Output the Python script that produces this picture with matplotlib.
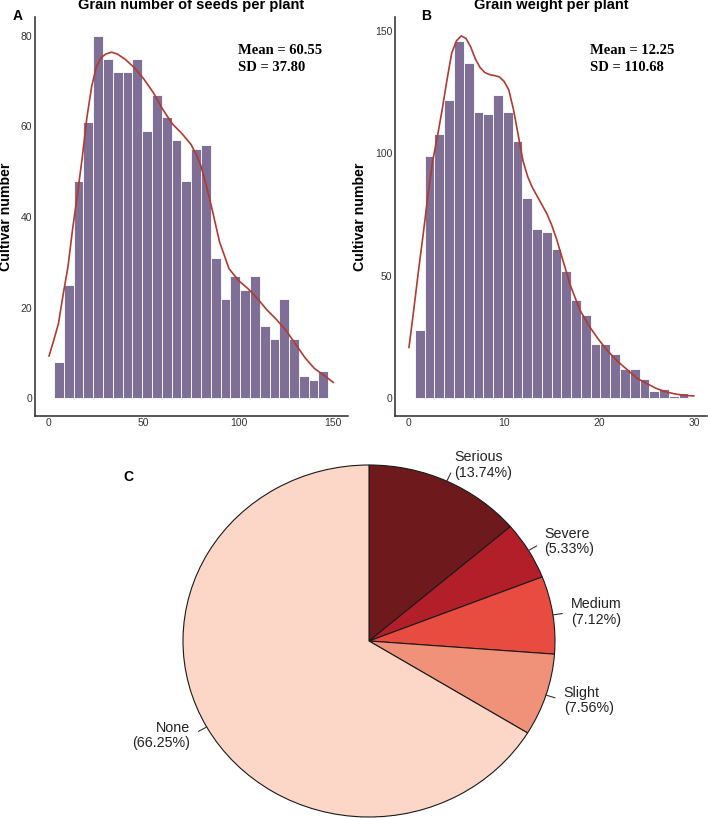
import numpy as np
import matplotlib
matplotlib.use("Agg")
import matplotlib.pyplot as plt

# ---------------- data ----------------
seed_counts = [8, 25, 48, 61, 80, 75, 72, 72, 75, 59, 67, 62, 57, 48,
               55, 56, 31, 22, 27, 24, 27, 16, 13, 22, 13, 5, 4, 6]
seed_bin_start = 2.64
seed_bin_width = 5.168
seed_curve_x = [0, 2.5, 5, 7.5, 10, 12.5, 15, 17.5, 20, 22.5, 25, 27.5, 30,
                33, 36, 40, 45, 50, 55, 60, 65, 70, 75, 78, 80, 83, 86, 90,
                95, 100, 105, 110, 115, 120, 125, 130, 135, 140, 145, 150]
seed_curve_y = [9.3, 12.8, 16.5, 23.0, 29.0, 37.5, 45.0, 53.0, 62.0, 68.8,
                73.2, 75.2, 76.0, 76.4, 76.0, 74.9, 73.0, 70.5, 67.5, 63.8,
                60.6, 58.5, 56.0, 53.5, 51.5, 47.0, 41.8, 34.5, 28.6, 26.0,
                24.2, 22.0, 19.5, 17.4, 15.0, 12.0, 9.0, 6.6, 5.1, 3.5]

weight_counts = [28, 99, 108, 122, 146, 137, 117, 116, 124, 117, 105, 82, 69,
                 68, 61, 52, 40, 34, 22, 22, 18, 12, 12, 8, 3, 4, 1, 2]
weight_bin_start = 0.632
weight_bin_width = 1.0275
weight_curve_x = [0, 0.5, 1, 1.5, 2, 2.5, 3, 3.5, 4, 4.5, 5, 5.5, 6, 6.5, 7,
                  7.5, 8, 8.5, 9, 9.5, 10, 10.5, 11, 11.5, 12, 12.5, 13, 13.5,
                  14, 14.5, 15, 15.5, 16, 17, 18, 19, 20, 21, 22, 23, 24, 25,
                  26, 27, 28, 29, 30]
weight_curve_y = [20.7, 36, 52, 67, 83, 97, 107, 118, 130, 141, 146, 148,
                  147, 143.5, 138.5, 135, 133, 132.2, 131.8, 131.3, 129.5,
                  126, 118, 107.5, 97, 90.5, 86, 82.5, 79, 75.5, 71, 65.5,
                  59, 46, 36, 29.3, 23.8, 19, 15, 11.6, 8.2, 6.1, 4.1, 2.7,
                  1.8, 1.2, 1.0]

pie_labels = ["Serious", "Severe", "Medium", "Slight", "None"]
pie_values = [13.74, 5.33, 7.12, 7.56, 66.25]
pie_colors = ["#6E1A1D", "#B21F28", "#E84C41", "#F0917A", "#FCD7C7"]

# ---------------- figure ----------------
W, H = 708, 818
fig = plt.figure(figsize=(W / 100, H / 100), dpi=100)

def fx(px):
    return px / W

def fy(py):
    return 1 - py / H

BAR = "#7F6E95"
CURVE = "#B23A2E"
SPINE = "#2E2626"
TICK = "#333333"
SANS = ["Liberation Sans", "DejaVu Sans"]
SERIF = ["Liberation Serif", "DejaVu Serif"]


def hist_panel(rect, counts, start, width, cx, cy, xlim, ylim, xticks, yticks):
    ax = fig.add_axes(rect)
    centers = start + width * (np.arange(len(counts)) + 0.5)
    ax.bar(centers, counts, width=width, color=BAR, edgecolor="white",
           linewidth=0.6)
    ax.plot(cx, cy, color=CURVE, lw=1.2, solid_joinstyle="round",
            solid_capstyle="round")
    ax.set_xlim(*xlim)
    ax.set_ylim(*ylim)
    ax.set_xticks(xticks)
    ax.set_yticks(yticks)
    for s in ["top", "right"]:
        ax.spines[s].set_visible(False)
    for s in ["left", "bottom"]:
        ax.spines[s].set_color(SPINE)
        ax.spines[s].set_linewidth(1.1)
    ax.tick_params(length=0, pad=1.6, labelsize=7.5, colors=TICK)
    for lab in ax.get_xticklabels() + ax.get_yticklabels():
        lab.set_family(SANS)
    return ax


top_px, bot_px = 17.3, 416.0
axA = hist_panel([fx(34.7), fy(bot_px), fx(348.3) - fx(34.7), (bot_px - top_px) / H],
                 seed_counts, seed_bin_start, seed_bin_width,
                 seed_curve_x, seed_curve_y,
                 (-7.54, 157.9), (-3.9, 84.1), [0, 50, 100, 150], [0, 20, 40, 60, 80])
axB = hist_panel([fx(394.7), fy(bot_px), fx(707.3) - fx(394.7), (bot_px - top_px) / H],
                 weight_counts, weight_bin_start, weight_bin_width,
                 weight_curve_x, weight_curve_y,
                 (-1.5, 31.4), (-7.2, 155.6), [0, 10, 20, 30], [0, 50, 100, 150])

# titles
fig.text(fx(191.5), fy(9.5), "Grain number of seeds per plant", ha="center",
         va="baseline", fontsize=10.5, fontweight="bold", family=SANS)
fig.text(fx(551), fy(9.5), "Grain weight per plant", ha="center",
         va="baseline", fontsize=10.5, fontweight="bold", family=SANS)
# y labels
for x in (6, 360):
    fig.text(fx(x), fy(216.5), "Cultivar number", rotation=90, ha="center",
             va="center", fontsize=10.2, fontweight="bold", family=SANS)
# panel letters
fig.text(fx(17.7), fy(15.7), "A", ha="center", va="center", fontsize=10,
         fontweight="bold", family=SANS)
fig.text(fx(426), fy(15.8), "B", ha="center", va="center", fontsize=10,
         fontweight="bold", family=SANS)
fig.text(fx(128), fy(477), "C", ha="center", va="center", fontsize=10,
         fontweight="bold", family=SANS)
# stats
for x0, m, s in ((238, "60.55", "37.80"), (590, "12.25", "110.68")):
    fig.text(fx(x0), fy(50), f"Mean = {m}", ha="left", va="center",
             fontsize=10.5, fontweight="bold", family=SERIF)
    fig.text(fx(x0), fy(67.7), f"SD = {s}", ha="left", va="center",
             fontsize=10.5, fontweight="bold", family=SERIF)

# ---------------- pie ----------------
cxp, cyp, rx, ry = 369.0, 641.0, 186.0, 176.0
left_px, right_px, ptop, pbot = 15.6, 703.8, 440.0, 818.0
axC = fig.add_axes([fx(left_px), fy(pbot), fx(right_px) - fx(left_px),
                    (pbot - ptop) / H])
wedges, _ = axC.pie(pie_values, colors=pie_colors, startangle=90,
                    counterclock=False,
                    wedgeprops=dict(edgecolor="#1a1a1a", linewidth=0.8))
axC.set_aspect("auto")
axC.set_xlim(-(cxp - left_px) / rx, (right_px - cxp) / rx)
axC.set_ylim(-(pbot - cyp) / ry, (cyp - ptop) / ry)
axC.axis("off")

total = sum(pie_values)
ang = 90.0
for lab, v in zip(pie_labels, pie_values):
    span = 360.0 * v / total
    mid = np.deg2rad(ang - span / 2)
    ang -= span
    c, s = np.cos(mid), np.sin(mid)
    axC.plot([c, 1.05 * c], [s, 1.05 * s], color="#333333", lw=0.8)
    axC.text(1.1 * c, 1.1 * s, f"{lab}\n({v:.2f}%)",
             ha="left" if c > 0 else "right", va="center", fontsize=10.3,
             family=SANS, color="#222222", linespacing=1.15)

fig.savefig("out.png", dpi=100)
